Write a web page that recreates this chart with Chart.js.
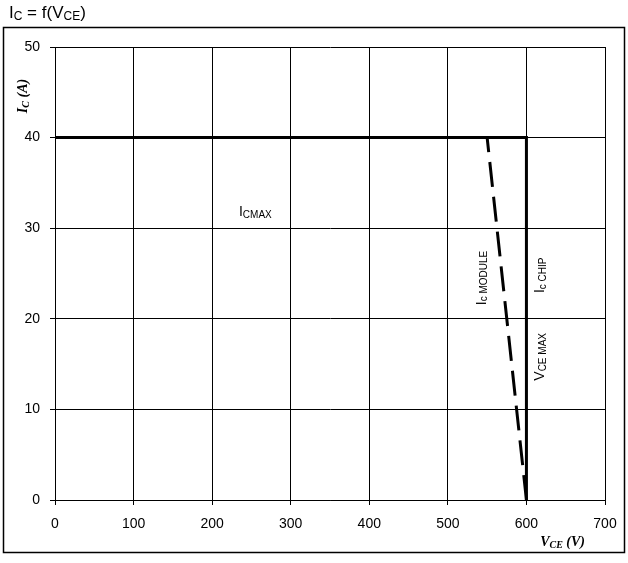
<!DOCTYPE html>
<html>
<head>
<meta charset="utf-8">
<script src="https://cdn.jsdelivr.net/npm/chart.js@4/dist/chart.umd.min.js"></script>
<style>
  html, body { margin: 0; padding: 0; background: #fff; }
  #wrap { position: relative; width: 628px; height: 563px; }
</style>
</head>
<body>
<div id="wrap"><canvas id="soa"></canvas></div>
<script>
const xTicks = [0, 100, 200, 300, 400, 500, 600, 700];
const yTicks = [0, 10, 20, 30, 40, 50];

// chip limit: I_CMAX then V_CE MAX
const chipVce = [0, 600, 600];
const chipIc = [40, 40, 0];

// module limit (dashed), drawn from the bottom up
const moduleVce = [600, 550];
const moduleIc = [0, 40];

const SANS = "'Liberation Sans', Arial, sans-serif";
const SERIF = "'Liberation Serif', 'Times New Roman', serif";

const toPoints = (xs, ys) => xs.map((x, i) => ({ x: x, y: ys[i] }));

// text with a subscript part, drawn left-aligned at x
const subText = (ctx, x, y, main, sub, size, font, style, after) => {
  ctx.font = style + size + "px " + font;
  ctx.fillText(main, x, y);
  let w = ctx.measureText(main).width;
  ctx.font = style + Math.round(size * 0.68) + "px " + font;
  ctx.fillText(sub, x + w, y + size * 0.22);
  w += ctx.measureText(sub).width;
  if (after) {
    ctx.font = style + size + "px " + font;
    ctx.fillText(after, x + w, y);
    w += ctx.measureText(after).width;
  }
  return w;
};

const subWidth = (ctx, main, sub, size, font, style, after) => {
  ctx.font = style + size + "px " + font;
  let w = ctx.measureText(main).width + (after ? ctx.measureText(after).width : 0);
  ctx.font = style + Math.round(size * 0.68) + "px " + font;
  return w + ctx.measureText(sub).width;
};

const labelsPlugin = {
  id: "labels",
  afterDraw(chart) {
    const ctx = chart.ctx;
    const xs = chart.scales.x;
    const ys = chart.scales.y;
    ctx.save();
    ctx.fillStyle = "#000";
    ctx.textBaseline = "middle";
    ctx.textAlign = "left";

    // outer frame
    ctx.strokeStyle = "#000";
    ctx.lineWidth = 1.5;
    ctx.strokeRect(3.5, 27.5, 621, 525);

    // title
    let tw = subText(ctx, 9, 13, "I", "C", 17, SANS, "", " = f(V");
    subText(ctx, 9 + tw, 13, "", "CE", 17, SANS, "", ")");

    // I_CMAX
    let w = subWidth(ctx, "I", "CMAX", 14, SANS, "");
    subText(ctx, xs.getPixelForValue(255) - w / 2, ys.getPixelForValue(31.8), "I", "CMAX", 14, SANS, "");

    // rotated labels
    const rot = (vx, vy, main, sub) => {
      ctx.save();
      ctx.translate(xs.getPixelForValue(vx), ys.getPixelForValue(vy));
      ctx.rotate(-Math.PI / 2);
      const ww = subWidth(ctx, main, sub, 14, SANS, "");
      subText(ctx, -ww / 2, 0, main, sub, 14, SANS, "");
      ctx.restore();
    };
    rot(543, 24.5, "I", "c MODULE");
    rot(617, 24.8, "I", "c CHIP");
    rot(617, 15.8, "V", "CE MAX");

    // y axis title
    ctx.save();
    ctx.translate(23, 96);
    ctx.rotate(-Math.PI / 2);
    w = subWidth(ctx, "I", "C", 14, SERIF, "bold italic ", " (A)");
    subText(ctx, -w / 2, 0, "I", "C", 14, SERIF, "bold italic ", " (A)");
    ctx.restore();

    // x axis title
    w = subWidth(ctx, "V", "CE", 14, SERIF, "bold italic ", " (V)");
    subText(ctx, 585 - w, 542, "V", "CE", 14, SERIF, "bold italic ", " (V)");

    ctx.restore();
  },
};

const soaChart = () => {
  const ctx = document.getElementById("soa").getContext("2d");

  return new Chart(ctx, {
    type: "scatter",
    data: {
      datasets: [
        {
          label: "Chip",
          data: toPoints(chipVce, chipIc),
          showLine: true,
          borderColor: "#000",
          borderWidth: 3,
          pointRadius: 0,
          borderCapStyle: "butt",
          borderJoinStyle: "miter",
        },
        {
          label: "Module",
          data: toPoints(moduleVce, moduleIc),
          showLine: true,
          borderColor: "#000",
          borderWidth: 3,
          borderDash: [25, 10],
          pointRadius: 0,
          borderCapStyle: "butt",
        },
      ],
    },
    options: {
      responsive: true,
      maintainAspectRatio: false,
      animation: false,
      layout: {
        padding: { left: 0, right: 23, top: 47, bottom: 0 },
      },
      plugins: {
        legend: { display: false },
        tooltip: { enabled: false },
        title: { display: false },
      },
      scales: {
        x: {
          type: "linear",
          min: 0,
          max: 700,
          afterBuildTicks: (axis) => {
            axis.ticks = xTicks.map((v) => ({ value: v }));
          },
          afterFit: (axis) => {
            axis.height = 63;
          },
          grid: { color: "#000", lineWidth: 1, tickLength: 5 },
          border: { color: "#000", width: 1 },
          ticks: {
            color: "#000",
            padding: 11,
            maxRotation: 0,
            font: { family: SANS, size: 14 },
          },
        },
        y: {
          type: "linear",
          min: 0,
          max: 50,
          afterBuildTicks: (axis) => {
            axis.ticks = yTicks.map((v) => ({ value: v }));
          },
          afterFit: (axis) => {
            axis.width = 55;
          },
          grid: { color: "#000", lineWidth: 1, tickLength: 5 },
          border: { color: "#000", width: 1 },
          ticks: {
            color: "#000",
            padding: 10,
            font: { family: SANS, size: 14 },
          },
        },
      },
    },
    plugins: [labelsPlugin],
  });
};

soaChart();
</script>
</body>
</html>
